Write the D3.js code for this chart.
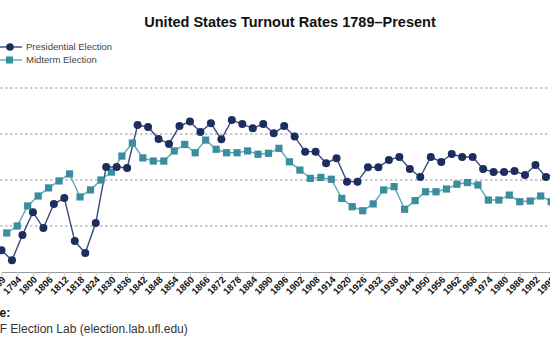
<!DOCTYPE html>
<html>
<head>
<meta charset="utf-8">
<script src="https://cdn.jsdelivr.net/npm/d3@7"></script>
<style>
  html, body { margin: 0; padding: 0; background: #fff; overflow: hidden; }
  svg { display: block; font-family: "Liberation Sans", Arial, sans-serif; }
</style>
</head>
<body>
<div id="chart"></div>
<script>
// turnout (% of eligible voters)
const presYears = [1789, 1792, 1796, 1800, 1804, 1808, 1812, 1816, 1820, 1824, 1828, 1832, 1836, 1840, 1844, 1848,
  1852, 1856, 1860, 1864, 1868, 1872, 1876, 1880, 1884, 1888, 1892, 1896, 1900, 1904, 1908, 1912, 1916, 1920,
  1924, 1928, 1932, 1936, 1940, 1944, 1948, 1952, 1956, 1960, 1964, 1968, 1972, 1976, 1980, 1984, 1988, 1992,
  1996, 2000, 2004, 2008, 2012, 2016, 2020];
const presTurnout = [11.8, 6.4, 20.1, 32.5, 23.9, 37.0, 40.2, 16.8, 10.3, 26.6, 57.1, 57.1, 56.5, 79.9, 78.8, 72.3,
  69.6, 79.3, 81.8, 76.1, 80.8, 72.1, 82.6, 80.4, 78.1, 80.4, 75.4, 79.3, 73.6, 65.4, 65.4, 59.1, 61.8, 49.1,
  49.1, 56.9, 56.9, 60.9, 62.5, 56.0, 51.6, 62.5, 59.8, 64.1, 62.5, 62.5, 56.0, 54.3, 54.3, 54.9, 52.7, 58.2,
  51.6, 54.2, 60.1, 61.6, 58.6, 60.1, 66.6];

const midYears = [1790, 1794, 1798, 1802, 1806, 1810, 1814, 1818, 1822, 1826, 1830, 1834, 1838, 1842, 1846, 1850,
  1854, 1858, 1862, 1866, 1870, 1874, 1878, 1882, 1886, 1890, 1894, 1898, 1902, 1906, 1910, 1914, 1918, 1922,
  1926, 1930, 1934, 1938, 1942, 1946, 1950, 1954, 1958, 1962, 1966, 1970, 1974, 1978, 1982, 1986, 1990, 1994,
  1998, 2002, 2006, 2010, 2014, 2018, 2022];
const midTurnout = [21.2, 25.0, 35.9, 41.3, 45.7, 49.5, 53.3, 40.8, 44.6, 50.0, 54.3, 63.0, 70.1, 62.0, 60.3, 60.3,
  65.8, 69.3, 64.8, 71.7, 66.7, 64.8, 64.8, 65.8, 64.0, 64.5, 67.2, 59.9, 55.4, 50.9, 51.4, 50.4, 40.0, 35.5,
  33.3, 37.0, 44.6, 46.4, 34.1, 38.8, 43.6, 43.6, 45.1, 47.7, 48.6, 47.3, 39.1, 39.1, 41.8, 38.2, 38.6, 41.3,
  38.2, 40.5, 41.3, 41.8, 36.7, 50.0, 46.8];

const yTicks = [25, 50, 75, 100];
const seriesNames = ["Presidential Election", "Midterm Election"];

const width = 550;
const height = 352;
const presColor = "#1c2d5f";
const midColor = "#3a8d9f";

const categories = presYears.concat(midYears).sort((a, b) => a - b);
const tickYears = categories.filter((d, i) => i % 3 === 0);

const pres = presYears.map((y, i) => ({ year: y, value: presTurnout[i] }));
const mid = midYears.map((y, i) => ({ year: y, value: midTurnout[i] }));

const svg = d3.select("#chart")
  .append("svg")
  .attr("width", width)
  .attr("height", height);

// the plot runs off both edges of the window, like the reference crop
const xScale = d3.scalePoint()
  .domain(categories)
  .range([1.5, 1.5 + (categories.length - 1) * 5.235]);

const yScale = d3.scaleLinear()
  .domain([0, 100])
  .range([272, 88]);

// dashed gridlines
svg.append("g")
  .selectAll("line")
  .data(yTicks)
  .join("line")
  .attr("x1", -60)
  .attr("x2", 700)
  .attr("y1", d => yScale(d))
  .attr("y2", d => yScale(d))
  .attr("stroke", "#8a8a8a")
  .attr("stroke-width", 0.9)
  .attr("stroke-dasharray", "2.5,2.5");

// X axis
const xAxis = svg.append("g")
  .attr("transform", `translate(0,${yScale(0)})`)
  .call(d3.axisBottom(xScale).tickValues(tickYears).tickSize(4).tickSizeOuter(0));

xAxis.select(".domain").attr("stroke", "#9a9a9a").attr("stroke-width", 1.2);
xAxis.selectAll(".tick line").attr("stroke", "#c8c8c8");
xAxis.selectAll(".tick text")
  .attr("font-family", "Liberation Sans, Arial, sans-serif")
  .attr("font-size", 9.5)
  .attr("font-weight", "bold")
  .attr("fill", "#111")
  .attr("text-anchor", "end")
  .attr("x", 0)
  .attr("y", 0)
  .attr("dy", "0.35em")
  .attr("transform", "translate(2,6) rotate(-45)");

// lines
const line = d3.line()
  .x(d => xScale(d.year))
  .y(d => yScale(d.value));

svg.append("path")
  .datum(mid)
  .attr("fill", "none")
  .attr("stroke", "#5aa8b6")
  .attr("stroke-width", 1.4)
  .attr("d", line);

svg.append("path")
  .datum(pres)
  .attr("fill", "none")
  .attr("stroke", "#3b4a78")
  .attr("stroke-width", 1.4)
  .attr("d", line);

// markers
svg.append("g")
  .selectAll("rect")
  .data(mid)
  .join("rect")
  .attr("x", d => xScale(d.year) - 3.6)
  .attr("y", d => yScale(d.value) - 3.6)
  .attr("width", 7.2)
  .attr("height", 7.2)
  .attr("fill", midColor);

svg.append("g")
  .selectAll("circle")
  .data(pres)
  .join("circle")
  .attr("cx", d => xScale(d.year))
  .attr("cy", d => yScale(d.value))
  .attr("r", 4)
  .attr("fill", presColor);

// title
svg.append("text")
  .attr("x", 290)
  .attr("y", 27)
  .attr("text-anchor", "middle")
  .attr("font-size", 14.5)
  .attr("font-weight", "bold")
  .attr("fill", "#111")
  .text("United States Turnout Rates 1789\u2013Present");

// legend
const legend = svg.append("g");
legend.append("line")
  .attr("x1", -2).attr("x2", 22).attr("y1", 47).attr("y2", 47)
  .attr("stroke", "#3b4a78").attr("stroke-width", 1.4);
legend.append("circle")
  .attr("cx", 10).attr("cy", 47).attr("r", 3.8).attr("fill", presColor);
legend.append("line")
  .attr("x1", -2).attr("x2", 22).attr("y1", 60).attr("y2", 60)
  .attr("stroke", "#5aa8b6").attr("stroke-width", 1.4);
legend.append("rect")
  .attr("x", 6).attr("y", 56.5).attr("width", 7).attr("height", 7).attr("fill", midColor);
legend.selectAll("text")
  .data(seriesNames)
  .join("text")
  .attr("x", 26)
  .attr("y", (d, i) => 47 + i * 13)
  .attr("dy", "0.35em")
  .attr("font-size", 9.5)
  .attr("fill", "#444")
  .text(d => d);

// source note
svg.append("text")
  .attr("x", -34.5)
  .attr("y", 317)
  .attr("font-size", 12)
  .attr("font-weight", "bold")
  .attr("fill", "#111")
  .text("Source:");

svg.append("text")
  .attr("x", -9)
  .attr("y", 333)
  .attr("font-size", 12)
  .attr("fill", "#333")
  .text("UF Election Lab (election.lab.ufl.edu)");
</script>
</body>
</html>
